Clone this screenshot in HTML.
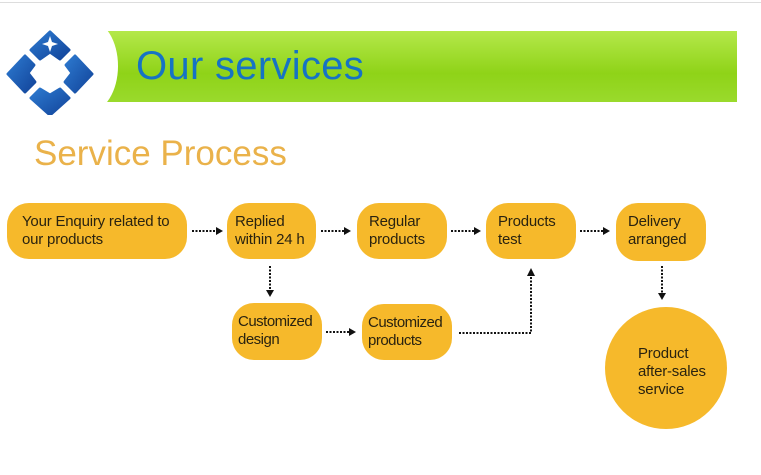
<!DOCTYPE html>
<html><head><style>
body{margin:0;width:761px;height:475px;background:#fff;position:relative;overflow:hidden;font-family:"Liberation Sans",sans-serif}
.b{position:absolute;background:#f6b92b;border-radius:22px;color:#2a2310;font-size:15px;line-height:18px;box-sizing:border-box;padding:10px 4px 0 12px;white-space:nowrap;letter-spacing:-0.2px}
</style></head><body>
<div style="position:absolute;left:0;top:2px;width:761px;height:1px;background:#ddd"></div>
<div style="position:absolute;left:100px;top:31px;width:637px;height:71px;background:linear-gradient(#b4e84a,#8fd318 60%,#9ada2c)"></div>
<div style="position:absolute;left:60px;top:20px;width:58px;height:92px;border-radius:50%;background:#fff"></div>
<svg style="position:absolute;left:0;top:25px" width="100" height="90">
<defs><linearGradient id="g" x1="0" y1="0" x2="1" y2="1"><stop offset="0" stop-color="#2d7ad0"/><stop offset="1" stop-color="#12449a"/></linearGradient></defs>
<g fill="url(#g)" stroke="url(#g)" stroke-width="3" stroke-linejoin="round">
<polygon points="50,7 69,25 60,34 50,27 40,34 31,25"/>
<polygon points="25,31 34,40 28,48 35,57 25,67 8,49"/>
<polygon points="75,31 92,49 75,67 65,57 72,48 66,40"/>
<polygon points="50,90 69,73 60,64 50,70 40,64 31,73"/>
</g>
<polygon points="50,11 52,17 58,19 52,21 50,27 48,21 42,19 48,17" fill="#fff"/>
</svg>
<div style="position:absolute;left:136px;top:44px;font-size:40px;color:#1673c4;letter-spacing:0.3px">Our services</div>
<div style="position:absolute;left:34px;top:134px;font-size:35px;color:#eab24a">Service Process</div>
<div class="b" style="left:7px;top:203px;width:180px;height:56px;padding-left:15px">Your Enquiry related to<br>our products</div>
<div class="b" style="left:227px;top:203px;width:89px;height:56px;padding-left:8px">Replied<br>within 24 h</div>
<div class="b" style="left:357px;top:203px;width:90px;height:56px">Regular<br>products</div>
<div class="b" style="left:486px;top:203px;width:90px;height:56px">Products<br>test</div>
<div class="b" style="left:616px;top:203px;width:90px;height:58px">Delivery<br>arranged</div>
<div class="b" style="left:232px;top:303px;width:90px;height:57px;padding-left:6px;letter-spacing:-0.5px">Customized<br>design</div>
<div class="b" style="left:362px;top:304px;width:90px;height:56px;padding-left:6px;letter-spacing:-0.5px">Customized<br>products</div>
<div class="b" style="left:605px;top:307px;width:122px;height:122px;border-radius:50%;padding:38px 0 0 33px">Product<br>after-sales<br>service</div>
<svg style="position:absolute;left:0;top:0" width="761" height="475">
<g stroke="#111" stroke-width="2" stroke-dasharray="2,1.5" fill="none">
<path d="M192 231H217"/><path d="M321 231H345"/><path d="M451 231H474"/><path d="M580 231H604"/>
<path d="M270 266V291"/><path d="M326 332H350"/>
<path d="M459 333H531V277"/><path d="M662 266V297"/>
</g>
<g fill="#111">
<polygon points="223,231 216,227 216,235"/><polygon points="351,231 344,227 344,235"/>
<polygon points="481,231 474,227 474,235"/><polygon points="610,231 603,227 603,235"/>
<polygon points="270,297 266,290 274,290"/><polygon points="356,332 349,328 349,336"/>
<polygon points="531,268 527,276 535,276"/><polygon points="662,300 658,293 666,293"/>
</g>
</svg>
</body></html>
